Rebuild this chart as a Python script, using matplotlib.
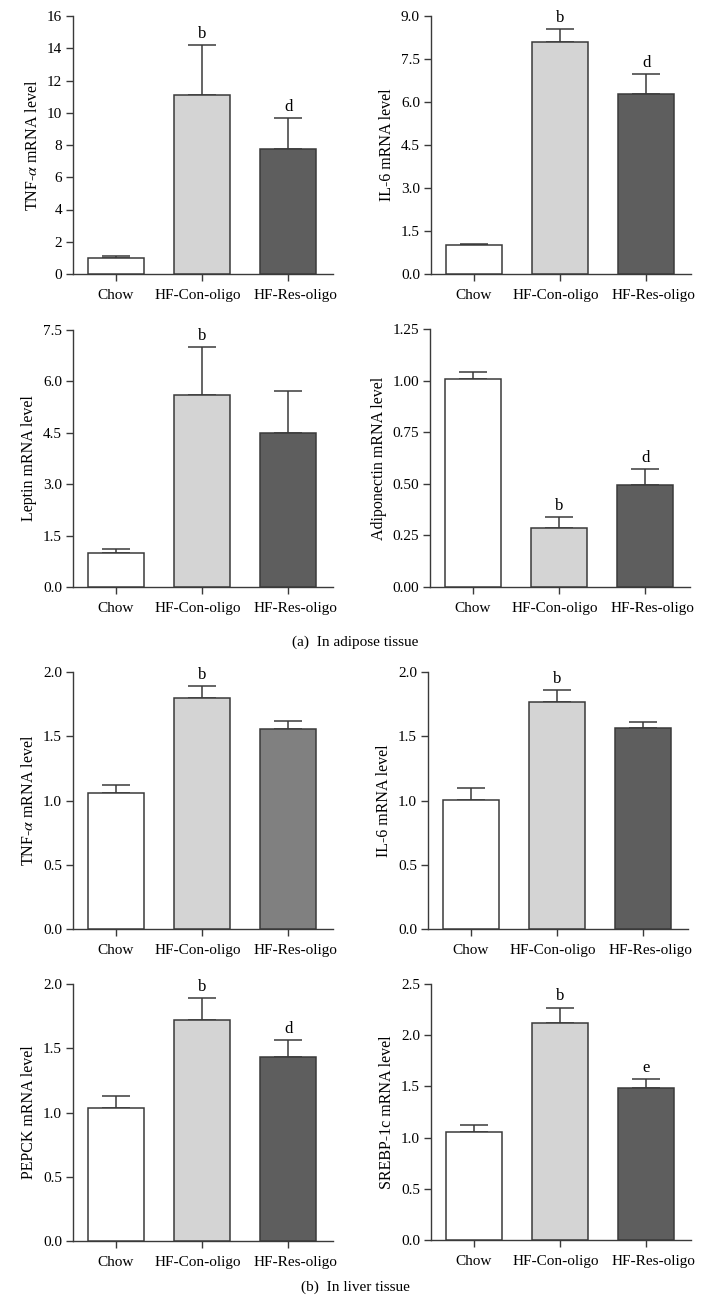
import numpy as np
import matplotlib
matplotlib.use("Agg")
import matplotlib.pyplot as plt
from matplotlib.transforms import ScaledTranslation

plt.rcParams['font.family'] = ['Liberation Serif', 'DejaVu Serif']
plt.rcParams['mathtext.fontset'] = 'stix'

groups = ["Chow", "HF-Con-oligo", "HF-Res-oligo"]

# adipose tissue
tnf_a_mean = [1.0, 11.1, 7.75]
tnf_a_err = [0.1, 3.1, 1.9]
il6_a_mean = [1.02, 8.08, 6.28]
il6_a_err = [0.03, 0.47, 0.69]
leptin_mean = [1.0, 5.6, 4.48]
leptin_err = [0.1, 1.4, 1.24]
adipo_mean = [1.007, 0.286, 0.493]
adipo_err = [0.036, 0.055, 0.078]

# liver tissue
tnf_l_mean = [1.056, 1.798, 1.554]
tnf_l_err = [0.067, 0.093, 0.067]
il6_l_mean = [1.001, 1.764, 1.562]
il6_l_err = [0.096, 0.093, 0.051]
pepck_mean = [1.038, 1.72, 1.429]
pepck_err = [0.09, 0.171, 0.133]
srebp_mean = [1.058, 2.117, 1.48]
srebp_err = [0.065, 0.153, 0.091]

letters_tnf_a = ["", "b", "d"]
letters_il6_a = ["", "b", "d"]
letters_leptin = ["", "b", ""]
letters_adipo = ["", "b", "d"]
letters_tnf_l = ["", "b", ""]
letters_il6_l = ["", "b", ""]
letters_pepck = ["", "b", "d"]
letters_srebp = ["", "b", "e"]

WHITE, LIGHT, DARK, MID = "#ffffff", "#d4d4d4", "#5e5e5e", "#808080"
EDGE = "#3a3a3a"

W, H = 710, 1313

panels = [
    # (box px: left, top, right, bottom), mean, err, letters, ylabel, ymax, ticks, fmt, colors
    ((73, 16, 333, 274), tnf_a_mean, tnf_a_err, letters_tnf_a,
     r"TNF-$\alpha$ mRNA level", 16, np.arange(0, 17, 2), "{:.0f}", [WHITE, LIGHT, DARK]),
    ((431, 16, 691, 274), il6_a_mean, il6_a_err, letters_il6_a,
     "IL-6 mRNA level", 9, np.arange(0, 9.1, 1.5), "{:.1f}", [WHITE, LIGHT, DARK]),
    ((73, 330, 333, 587), leptin_mean, leptin_err, letters_leptin,
     "Leptin mRNA level", 7.5, np.arange(0, 7.6, 1.5), "{:.1f}", [WHITE, LIGHT, DARK]),
    ((430, 329, 690, 587), adipo_mean, adipo_err, letters_adipo,
     "Adiponectin mRNA level", 1.25, np.arange(0, 1.26, 0.25), "{:.2f}", [WHITE, LIGHT, DARK]),
    ((73, 672, 333, 929), tnf_l_mean, tnf_l_err, letters_tnf_l,
     r"TNF-$\alpha$ mRNA level", 2.0, np.arange(0, 2.01, 0.5), "{:.1f}", [WHITE, LIGHT, MID]),
    ((428, 672, 688, 929), il6_l_mean, il6_l_err, letters_il6_l,
     "IL-6 mRNA level", 2.0, np.arange(0, 2.01, 0.5), "{:.1f}", [WHITE, LIGHT, DARK]),
    ((73, 984, 333, 1241), pepck_mean, pepck_err, letters_pepck,
     "PEPCK mRNA level", 2.0, np.arange(0, 2.01, 0.5), "{:.1f}", [WHITE, LIGHT, DARK]),
    ((431, 984, 691, 1240), srebp_mean, srebp_err, letters_srebp,
     "SREBP-1c mRNA level", 2.5, np.arange(0, 2.51, 0.5), "{:.1f}", [WHITE, LIGHT, DARK]),
]

# the long category names sit a little off their ticks in the original
label_shift_px = [0, -4, 7]

fig = plt.figure(figsize=(W / 100, H / 100), dpi=100)
x = np.arange(len(groups))

for (l, t, r, b), mean, err, letters, ylab, ymax, ticks, fmt, colors in panels:
    ax = fig.add_axes([l / W, 1 - b / H, (r - l) / W, (b - t) / H])
    ax.bar(x, mean, width=0.65, color=colors, edgecolor=EDGE, linewidth=1.1, zorder=3)
    ax.errorbar(x, mean, yerr=[np.zeros(3), err], fmt="none", ecolor=EDGE,
                elinewidth=1.1, capsize=10, capthick=1.1, zorder=2)
    for xi, m, e, s in zip(x, mean, err, letters):
        if s:
            ax.text(xi, m + e + ymax * 0.012, s, ha="center", va="bottom", fontsize=12)
    ax.set_xlim(-0.5, 2.52)
    ax.set_ylim(0, ymax)
    ax.set_yticks(ticks)
    ax.set_yticklabels([fmt.format(v) for v in ticks])
    ax.set_xticks(x)
    ax.set_xticklabels(groups)
    ax.set_ylabel(ylab, fontsize=11.5, labelpad=4)
    for side in ("top", "right"):
        ax.spines[side].set_visible(False)
    for side in ("left", "bottom"):
        ax.spines[side].set_color(EDGE)
        ax.spines[side].set_linewidth(1.0)
    ax.tick_params(axis="both", direction="out", length=5, width=1.0, color=EDGE,
                   labelsize=11, pad=3)
    ax.tick_params(axis="x", pad=6)
    for lab, dx in zip(ax.get_xticklabels(), label_shift_px):
        lab.set_transform(lab.get_transform() + ScaledTranslation(dx / 100, 0, fig.dpi_scale_trans))

fig.text(355 / W, 1 - 642 / H, "(a)  In adipose tissue", ha="center", va="center", fontsize=11)
fig.text(355 / W, 1 - 1287 / H, "(b)  In liver tissue", ha="center", va="center", fontsize=11)

fig.savefig("out.png", dpi=100)
